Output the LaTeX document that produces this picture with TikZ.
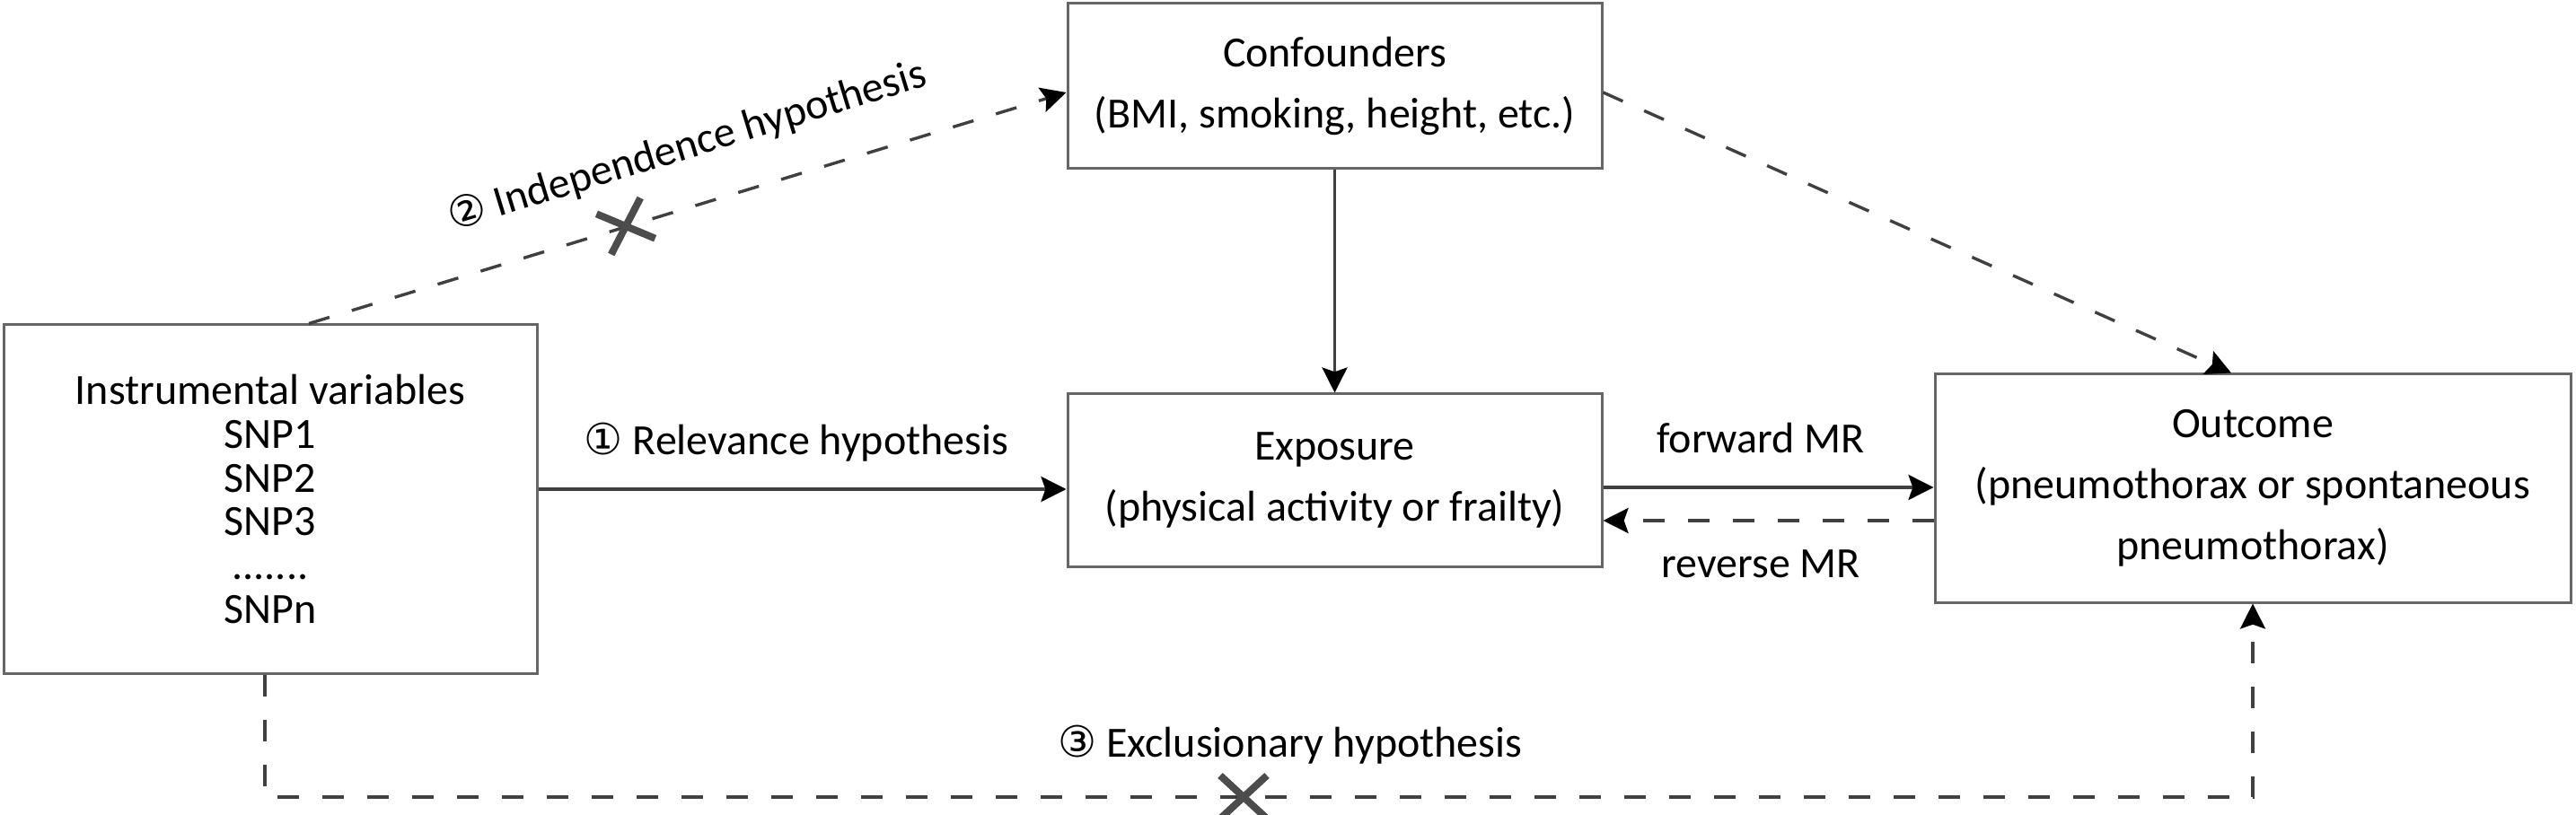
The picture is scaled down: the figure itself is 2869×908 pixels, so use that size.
\documentclass[tikz,border=0pt]{standalone}
\usepackage{fontspec}
\setmainfont{Carlito}
\newfontfamily\symf{DejaVu Sans}
\usetikzlibrary{arrows.meta,shapes.misc}
\begin{document}
\begin{tikzpicture}[x=0.25pt,y=-0.25pt,
  box/.style={draw=black!60, line width=0.75pt, fill=white, align=center, inner sep=0pt, font=\fontsize{12}{17}\selectfont},
  conn/.style={draw=black!75, line width=0.85pt, -{Stealth[length=7pt,width=7pt,inset=1.2pt,color=black]}},
  dconn/.style={conn, dash pattern=on 6pt off 6.5pt},
  lbl/.style={font=\fontsize{12}{14}\selectfont, inner sep=0pt},
  xmark/.style={cross out, draw=black!70, line width=2pt, minimum width=11pt, minimum height=10pt, inner sep=0pt}
]
\useasboundingbox (0,0) rectangle (2869,908);

\node[box, minimum width=148.5pt, minimum height=97pt, font=\fontsize{12}{12.2}\selectfont] (Instr) at (301,556)
  {Instrumental variables\\SNP1\\SNP2\\SNP3\\.......\\SNPn};
\node[box, minimum width=148.75pt, minimum height=46pt] (Conf) at (1486.5,96)
  {Confounders\\(BMI, smoking, height, etc.)};
\node[box, minimum width=148.75pt, minimum height=48pt] (Expo) at (1486.5,535)
  {Exposure\\(physical activity or frailty)};
\node[box, minimum width=177pt, minimum height=63.5pt] (Outc) at (2509,544)
  {Outcome\\(pneumothorax or spontaneous\\pneumothorax)};

\coordinate (ebot) at (1385,888);

\draw[conn] (Instr.east |- 0,545) -- (Expo.west |- 0,545);
\draw[conn] (Conf) -- (Expo);
\draw[dconn] (Conf.east |- 0,103) -- (Outc.north -| 2485,0);
\draw[dconn] (Instr.north -| 344,0) -- (Conf.west |- 0,103);
\draw[conn] (Expo.east |- 0,543) -- (Outc.west |- 0,543);
\draw[dconn] (Outc.west |- 0,580) -- (Expo.east |- 0,580);
\draw[dconn] (Instr.south -| 295,0) |- (ebot) -| (Outc.south);

\node[xmark, rotate=20] (x1) at (697,252) {};
\node[xmark] (x2) at (ebot) {};

\node[lbl] (lrel) at (887,493) {{\symf ①} Relevance hypothesis};
\node[lbl, rotate=17] (lind) at (765,163) {{\symf ②} Independence hypothesis};
\node[lbl] (lexc) at (1437,830) {{\symf ③} Exclusionary hypothesis};
\node[lbl] (lfwd) at (1961,488) {forward MR};
\node[lbl] (lrev) at (1961,628) {reverse MR};
\end{tikzpicture}
\end{document}
